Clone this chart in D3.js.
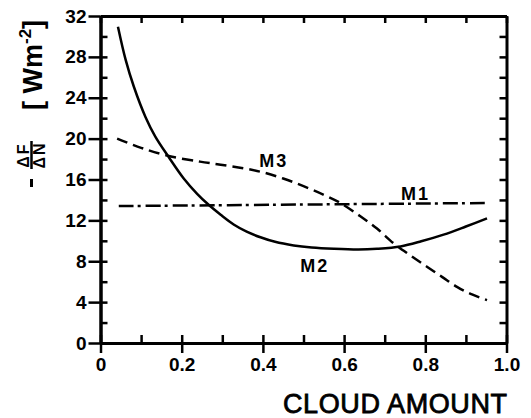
<!DOCTYPE html>
<html>
<head>
<meta charset="utf-8">
<script src="https://cdn.jsdelivr.net/npm/d3@7"></script>
<style>
  body { margin: 0; background: #fff; }
  svg { font-family: "Liberation Sans", Arial, sans-serif; }
  .tick text { font-size: 19px; font-weight: bold; fill: #000; }
</style>
</head>
<body>
<svg width="531" height="418"></svg>
<script>
// curve M1 (dash-dot, nearly flat)
const m1Cloud = [0.045, 0.5, 0.95];
const m1Val = [13.4, 13.55, 13.7];

// curve M2 (solid)
const m2Cloud = [0.043, 0.062, 0.082, 0.111, 0.135, 0.168, 0.205, 0.238, 0.267, 0.296, 0.328, 0.36, 0.394, 0.43, 0.476, 0.52, 0.575, 0.635, 0.681, 0.739, 0.79, 0.845, 0.9, 0.952];
const m2Val = [30.95, 27.7, 25.1, 22.1, 20.2, 18.2, 16.1, 14.6, 13.5, 12.55, 11.6, 10.9, 10.35, 9.9, 9.55, 9.35, 9.22, 9.15, 9.22, 9.45, 9.95, 10.6, 11.4, 12.2];

// curve M3 (dashed)
const m3Cloud = [0.041, 0.1, 0.168, 0.245, 0.296, 0.353, 0.4, 0.45, 0.5, 0.55, 0.591, 0.64, 0.681, 0.722, 0.764, 0.804, 0.842, 0.878, 0.915, 0.952];
const m3Val = [20.0, 19.1, 18.3, 17.75, 17.45, 17.1, 16.7, 16.1, 15.35, 14.5, 13.7, 12.4, 11.2, 9.75, 8.55, 7.47, 6.45, 5.5, 4.75, 4.2];

const xTicks = [0, 0.2, 0.4, 0.6, 0.8, 1.0];
const xTickLabels = ["0", "0.2", "0.4", "0.6", "0.8", "1.0"];
const yTicks = [0, 4, 8, 12, 16, 20, 24, 28, 32];

// curve labels: [name, cloud, value]
const curveLabels = [["M1", 0.776, 14.0], ["M2", 0.528, 6.95], ["M3", 0.427, 17.2]];

const svg = d3.select("svg");
const plotL = 100.5, plotR = 506.5, plotT = 16, plotB = 343;

const x = d3.scaleLinear().domain([0, 1]).range([plotL, plotR]);
const y = d3.scaleLinear().domain([0, 32]).range([plotB, plotT]);

const minorX = d3.range(0, 1.001, 0.1);
const minorY = d3.range(0, 32.1, 2);

function styleAxis(g) {
  g.select(".domain").attr("stroke", "#000").attr("stroke-width", 3);
  g.selectAll(".tick line").attr("stroke", "#000").attr("stroke-width", 2.5);
}

// bottom: inward minor ticks, then outward majors with labels
svg.append("g")
  .attr("transform", `translate(0,${plotB})`)
  .call(d3.axisBottom(x).tickValues(minorX).tickSizeInner(-8).tickSizeOuter(0).tickFormat(""))
  .call(styleAxis);
svg.append("g")
  .attr("transform", `translate(0,${plotB})`)
  .call(d3.axisBottom(x).tickValues(xTicks).tickSizeInner(10).tickSizeOuter(0).tickPadding(5)
    .tickFormat((d, i) => xTickLabels[i]))
  .call(styleAxis);

// left
svg.append("g")
  .attr("transform", `translate(${plotL},0)`)
  .call(d3.axisLeft(y).tickValues(minorY).tickSizeInner(-7).tickSizeOuter(0).tickFormat(""))
  .call(styleAxis);
svg.append("g")
  .attr("transform", `translate(${plotL},0)`)
  .call(d3.axisLeft(y).tickValues(yTicks).tickSizeInner(12).tickSizeOuter(0).tickPadding(2))
  .call(styleAxis);

// top and right, ticks pointing inward
svg.append("g")
  .attr("transform", `translate(0,${plotT})`)
  .call(d3.axisTop(x).tickValues(minorX).tickSizeInner(-7).tickSizeOuter(0).tickFormat(""))
  .call(styleAxis);
svg.append("g")
  .attr("transform", `translate(${plotR},0)`)
  .call(d3.axisRight(y).tickValues(minorY).tickSizeInner(-7).tickSizeOuter(0).tickFormat(""))
  .call(styleAxis);

// curves
const line = d3.line()
  .x(d => x(d[0]))
  .y(d => y(d[1]))
  .curve(d3.curveCatmullRom.alpha(0.5));

const series = [
  { c: m1Cloud, v: m1Val, dash: "15,4,3,5" },
  { c: m2Cloud, v: m2Val, dash: null },
  { c: m3Cloud, v: m3Val, dash: "11,6" }
];

series.forEach(s => {
  svg.append("path")
    .datum(s.c.map((c, i) => [c, s.v[i]]))
    .attr("fill", "none")
    .attr("stroke", "#000")
    .attr("stroke-width", 2.5)
    .attr("stroke-dasharray", s.dash)
    .attr("d", line);
});

svg.selectAll(".clabel")
  .data(curveLabels)
  .join("text")
  .attr("class", "clabel")
  .attr("x", d => x(d[1]))
  .attr("y", d => y(d[2]))
  .attr("text-anchor", "middle")
  .attr("font-size", 18)
  .attr("font-weight", "bold")
  .attr("letter-spacing", 2)
  .text(d => d[0]);

// x axis title
svg.append("text")
  .attr("x", 283)
  .attr("y", 413)
  .attr("font-size", 27)
  .attr("stroke", "#000")
  .attr("stroke-width", 0.8)
  .attr("textLength", 224)
  .attr("lengthAdjust", "spacing")
  .text("CLOUD AMOUNT");

// y axis title, rotated
const yl = svg.append("g").attr("transform", "rotate(-90)");

yl.append("text")
  .attr("x", -110)
  .attr("y", 42)
  .attr("font-size", 27)
  .attr("font-weight", "bold")
  .call(t => {
    t.append("tspan").text("[ Wm");
    t.append("tspan").attr("font-size", 17).attr("dy", -11).text("-2");
    t.append("tspan").attr("dy", 11).text("]");
  });

// fraction  -ΔF/ΔN
yl.append("text")
  .attr("x", -155).attr("y", 29)
  .attr("text-anchor", "middle")
  .attr("font-size", 16).attr("font-weight", "bold")
  .attr("letter-spacing", 2)
  .text("ΔF");
yl.append("line")
  .attr("x1", -169).attr("x2", -141)
  .attr("y1", 31.5).attr("y2", 31.5)
  .attr("stroke", "#000").attr("stroke-width", 2.5);
yl.append("text")
  .attr("x", -155).attr("y", 45)
  .attr("text-anchor", "middle")
  .attr("font-size", 16).attr("font-weight", "bold")
  .attr("letter-spacing", 2)
  .text("ΔN");
yl.append("line")
  .attr("x1", -187).attr("x2", -179)
  .attr("y1", 31.5).attr("y2", 31.5)
  .attr("stroke", "#000").attr("stroke-width", 3);
</script>
</body>
</html>
